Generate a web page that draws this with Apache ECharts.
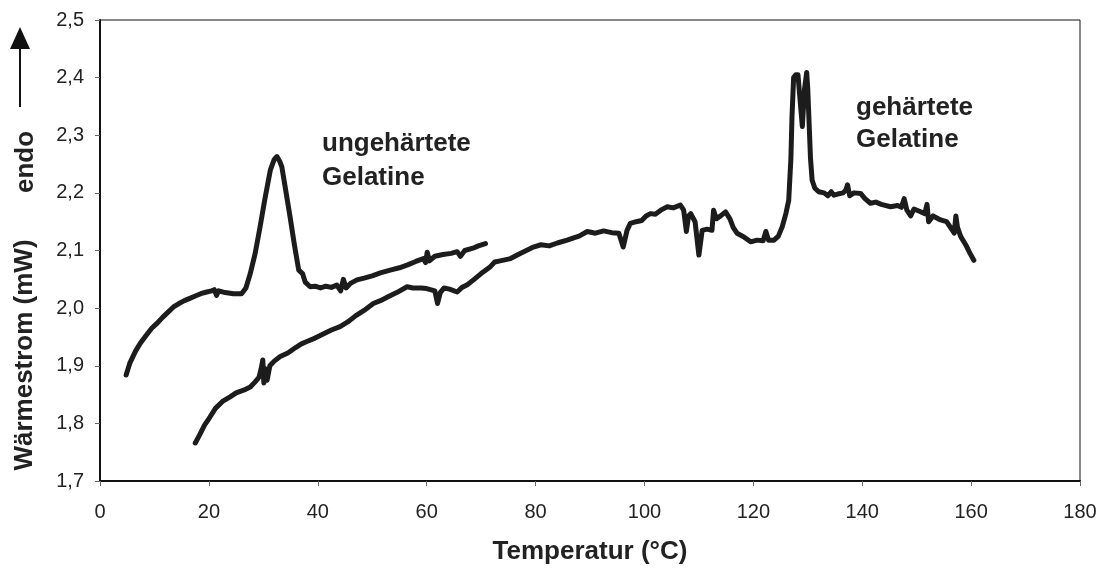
<!DOCTYPE html>
<html><head><meta charset="utf-8">
<script src="https://cdn.jsdelivr.net/npm/echarts@6/dist/echarts.min.js"></script>
<style>html,body{margin:0;padding:0;background:#fff}#c{width:1103px;height:568px}</style>
</head><body><div id="c"></div>
<script>
const xTicks = [0,20,40,60,80,100,120,140,160,180];
const yTicks = ['1,7','1,8','1,9','2,0','2,1','2,2','2,3','2,4','2,5'];
const seriesNames = ['ungehärtete Gelatine','gehärtete Gelatine'];
const ungehaertet = [[4.8,1.884],[5.5,1.905],[6.5,1.925],[7.4,1.939],[8.5,1.953],[9.5,1.965],[10.4,1.973],[11.5,1.984],[12.5,1.993],[13.5,2.002],[14.5,2.008],[15.5,2.013],[16.5,2.017],[17.5,2.021],[18.5,2.025],[19.6,2.028],[20.5,2.030],[21.0,2.032],[21.4,2.022],[21.8,2.030],[23,2.027],[24.5,2.025],[26.0,2.025],[26.8,2.035],[27.6,2.060],[28.5,2.095],[29.4,2.141],[30.3,2.190],[31.3,2.240],[32.0,2.258],[32.5,2.263],[33.0,2.255],[33.4,2.245],[34.1,2.205],[34.9,2.159],[35.7,2.110],[36.5,2.066],[37.2,2.060],[37.7,2.045],[38.6,2.037],[39.5,2.038],[40.5,2.035],[41.5,2.038],[42.5,2.036],[43.5,2.040],[44.2,2.030],[44.7,2.050],[45.2,2.035],[46,2.043],[47.2,2.049],[48.5,2.052],[50,2.056],[51.5,2.061],[53.3,2.066],[55,2.070],[56.5,2.075],[58,2.081],[59.4,2.086],[59.8,2.079],[60.1,2.097],[60.5,2.082],[61.5,2.090],[63,2.093],[64.5,2.095],[65.6,2.098],[66.2,2.090],[67,2.100],[68.5,2.104],[69.5,2.108],[70.8,2.112]];
const gehaertet = [[17.5,1.766],[18.3,1.780],[19.2,1.797],[20.2,1.811],[21.2,1.826],[22.5,1.838],[23.9,1.846],[25,1.853],[26.5,1.858],[27.6,1.863],[28.5,1.872],[29.2,1.880],[29.6,1.895],[29.9,1.910],[30.1,1.870],[30.4,1.895],[30.7,1.875],[31.2,1.900],[32,1.908],[33.1,1.916],[34.5,1.922],[36,1.932],[37,1.938],[38,1.942],[39.5,1.948],[41,1.955],[42.5,1.962],[44.1,1.968],[45.5,1.976],[47,1.987],[48.5,1.996],[50.2,2.008],[51.5,2.013],[53,2.020],[54.5,2.027],[56.4,2.037],[57.5,2.035],[59,2.035],[60,2.034],[61.5,2.030],[62,2.008],[62.5,2.027],[63.2,2.035],[64.2,2.033],[65.6,2.028],[66.5,2.036],[67.4,2.040],[68.6,2.049],[70,2.060],[71.7,2.072],[72.5,2.080],[73.5,2.082],[75.4,2.086],[77,2.094],[78.5,2.101],[79.6,2.106],[81,2.110],[82.5,2.108],[84,2.113],[85.8,2.118],[87,2.122],[88,2.125],[89.5,2.133],[91,2.130],[92.5,2.134],[94,2.131],[95.3,2.130],[96.1,2.106],[96.8,2.135],[97.4,2.147],[98.5,2.150],[99.5,2.152],[100.3,2.160],[101.1,2.164],[102,2.163],[103,2.170],[104.2,2.176],[105.3,2.174],[106.6,2.179],[107.2,2.170],[107.7,2.133],[108.1,2.160],[108.5,2.164],[109.3,2.150],[110.0,2.092],[110.6,2.135],[111.5,2.137],[112.4,2.135],[112.7,2.170],[113.2,2.155],[114.0,2.160],[114.9,2.167],[115.7,2.155],[116.3,2.140],[117.0,2.130],[118.2,2.124],[119.5,2.115],[120.7,2.118],[121.8,2.117],[122.3,2.133],[122.8,2.118],[123.8,2.118],[124.6,2.125],[125.3,2.141],[126.0,2.165],[126.5,2.187],[126.9,2.260],[127.1,2.332],[127.4,2.400],[127.8,2.405],[128.2,2.405],[128.6,2.360],[129.0,2.315],[129.4,2.380],[129.8,2.409],[130.0,2.380],[130.2,2.332],[130.5,2.260],[130.8,2.222],[131.3,2.208],[132.0,2.202],[133,2.200],[133.7,2.195],[134.3,2.202],[134.8,2.196],[135.5,2.198],[136.5,2.200],[137.0,2.205],[137.3,2.214],[137.7,2.195],[138.5,2.200],[139.7,2.199],[140.5,2.190],[141.5,2.182],[142.5,2.184],[143.5,2.180],[145.2,2.176],[146.5,2.178],[147.2,2.175],[147.7,2.190],[148.2,2.170],[148.9,2.160],[149.5,2.172],[150.5,2.168],[151.5,2.164],[151.9,2.180],[152.2,2.150],[153,2.160],[154.4,2.153],[155.5,2.150],[156.5,2.136],[156.9,2.130],[157.2,2.160],[157.5,2.140],[158.1,2.124],[159,2.110],[159.8,2.095],[160.5,2.083]];

const FONT = '"Liberation Sans", Arial, sans-serif';
const chart = echarts.init(document.getElementById('c'), null, {renderer:'canvas'});
const lineStyle = {color:'#1c1c1c', width:5, join:'round', cap:'round'};
chart.setOption({
  animation:false,
  grid:{left:100, right:23, top:20, bottom:87, containLabel:false, outerBoundsMode:'none', show:true, borderColor:'#111', borderWidth:1, backgroundColor:'transparent'},
  xAxis:{type:'value', min:0, max:180, interval:20,
    axisLine:{show:true, onZero:false, lineStyle:{color:'#111', width:2}},
    axisTick:{show:true, length:5, lineStyle:{color:'#666', width:1}},
    splitLine:{show:false},
    axisLabel:{color:'#222', fontSize:20, fontFamily:FONT, margin:21, formatter:v=>String(xTicks[Math.round(v/20)])},
    name:'Temperatur (°C)', nameLocation:'middle', nameGap:58,
    nameTextStyle:{color:'#222', fontSize:26, fontWeight:'bold', fontFamily:FONT}},
  yAxis:{type:'value', min:1.7, max:2.5, interval:0.1,
    axisLine:{show:true, onZero:false, lineStyle:{color:'#111', width:2}},
    axisTick:{show:true, length:5, lineStyle:{color:'#666', width:1}},
    splitLine:{show:false},
    axisLabel:{color:'#222', fontSize:20, fontFamily:FONT, margin:16, formatter:v=>yTicks[Math.round((v-1.7)*10)]}},
  graphic:[
    {type:'text', x:25, y:355, rotation:Math.PI/2, style:{text:'Wärmestrom (mW)', fill:'#222', font:'bold 26px '+FONT, textAlign:'center', textVerticalAlign:'middle'}},
    {type:'text', x:26, y:162, rotation:Math.PI/2, style:{text:'endo', fill:'#222', font:'bold 26px '+FONT, textAlign:'center', textVerticalAlign:'middle'}},
    {type:'line', shape:{x1:20, y1:107, x2:20, y2:45}, style:{stroke:'#111', lineWidth:2}},
    {type:'polygon', shape:{points:[[20,27],[10,49],[30,49]]}, style:{fill:'#111'}},
    {type:'text', x:322, y:127, style:{text:'ungehärtete\nGelatine', fill:'#222', font:'bold 26px '+FONT, lineHeight:34}},
    {type:'text', x:856, y:92, style:{text:'gehärtete\nGelatine', fill:'#222', font:'bold 26px '+FONT, lineHeight:32}}
  ],
  series:[
    {name:seriesNames[0], type:'line', data:ungehaertet, showSymbol:false, symbol:'none', lineStyle:lineStyle},
    {name:seriesNames[1], type:'line', data:gehaertet, showSymbol:false, symbol:'none', lineStyle:lineStyle}
  ]
});
</script></body></html>
